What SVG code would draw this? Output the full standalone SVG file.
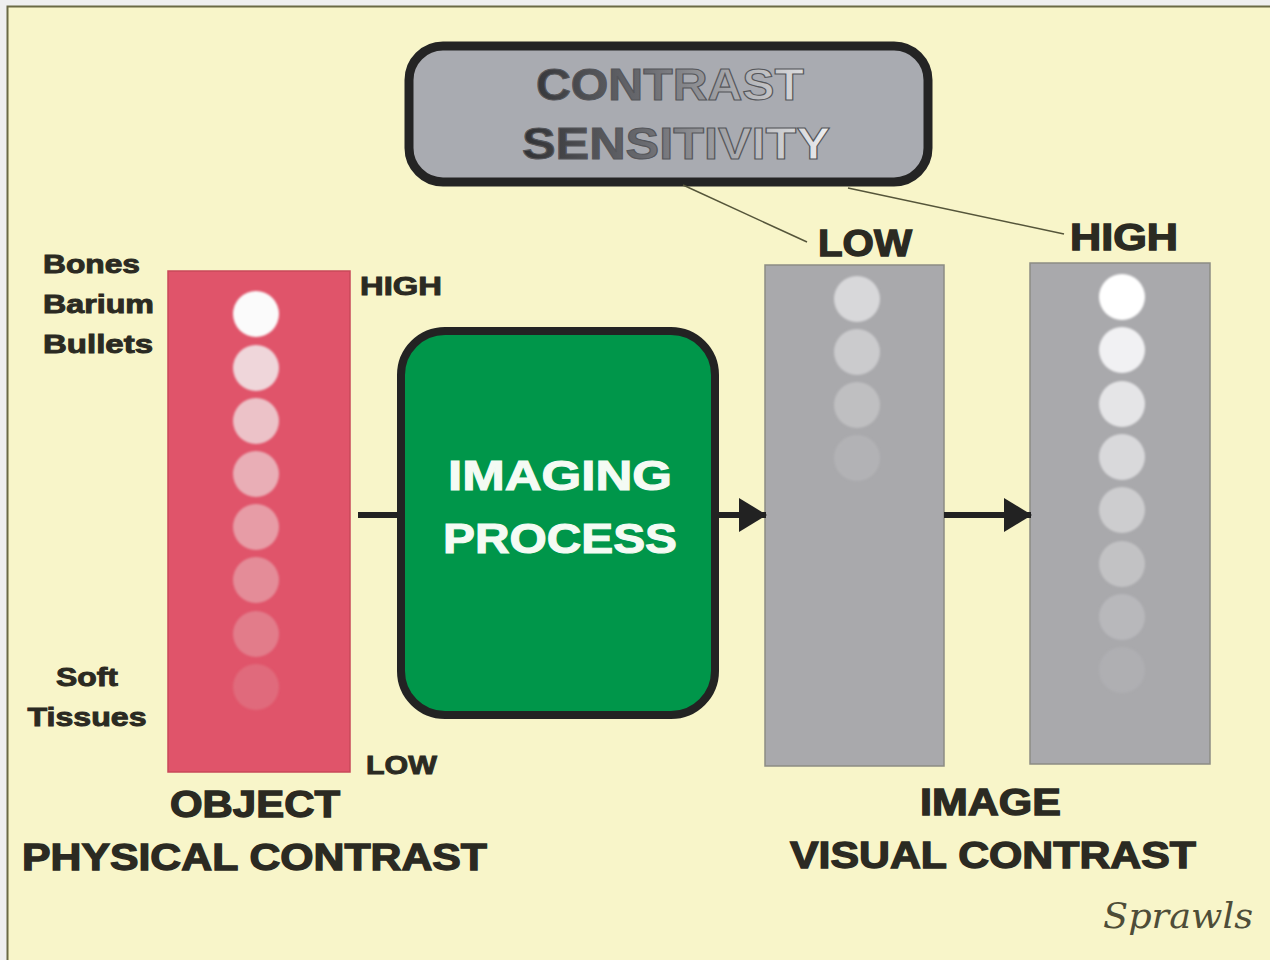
<svg xmlns="http://www.w3.org/2000/svg" width="1270" height="960" viewBox="0 0 1270 960">
<style>
.lbl{font-family:"Liberation Sans",Arial,sans-serif;font-weight:bold;fill:#2b2a22;stroke:#2b2a22;stroke-width:0.9}
.big{font-family:"Liberation Sans",Arial,sans-serif;font-weight:bold;fill:#2b2a22;stroke:#2b2a22;stroke-width:1.3}
.wt{font-family:"Liberation Sans",Arial,sans-serif;font-weight:bold;fill:#f4fbf4;stroke:#f4fbf4;stroke-width:1.1}
.cs{font-family:"Liberation Sans",Arial,sans-serif;font-weight:bold;fill:url(#csg);stroke:#55565a;stroke-width:1.1}
.conn{stroke:#222;stroke-width:6;fill:none}
.thin{stroke:#55553a;stroke-width:1.5;fill:none}
</style>
<defs>
<linearGradient id="csg" gradientUnits="userSpaceOnUse" x1="520" y1="0" x2="835" y2="0">
<stop offset="0" stop-color="#2f3033"/>
<stop offset="0.4" stop-color="#6a6b70"/>
<stop offset="1" stop-color="#f2f3f5"/>
</linearGradient>
<filter id="soft" x="-20%" y="-20%" width="140%" height="140%"><feGaussianBlur stdDeviation="1.2"/></filter>
<marker id="ah" viewBox="0 0 28 34" refX="27" refY="17" markerWidth="28" markerHeight="34" markerUnits="userSpaceOnUse" orient="auto"><path d="M0,0 L28,17 L0,34 z" fill="#222"/></marker>
</defs>
<rect x="0" y="0" width="1270" height="960" fill="#efefef"/>
<rect x="7" y="6" width="1263" height="954" fill="#f8f5c9"/>
<path d="M7.5,960 V6.5 H1270" stroke="#6b6a45" stroke-width="2" fill="none"/>

<g id="sensitivity">
<rect x="409" y="46" width="519" height="136" rx="34" fill="#a9abb1" stroke="#242424" stroke-width="9"/>
<text class="cs" x="670" y="100" font-size="44" text-anchor="middle" textLength="268" lengthAdjust="spacingAndGlyphs">CONTRAST</text>
<text class="cs" x="676" y="159" font-size="44" text-anchor="middle" textLength="308" lengthAdjust="spacingAndGlyphs">SENSITIVITY</text>
</g>

<g id="object">
<rect x="168" y="271" width="182" height="501" fill="#e0546a" stroke="#c8485a" stroke-width="1.5"/>
<g filter="url(#soft)">
<circle cx="256" cy="314" r="23" fill="#fbfbfb"/>
<circle cx="256" cy="368" r="23" fill="#efd6da"/>
<circle cx="256" cy="421" r="23" fill="#ecc2c8"/>
<circle cx="256" cy="474" r="23" fill="#e9aeb6"/>
<circle cx="256" cy="527" r="23" fill="#e79ca6"/>
<circle cx="256" cy="580" r="23" fill="#e48c98"/>
<circle cx="256" cy="634" r="23" fill="#e27c8a"/>
<circle cx="256" cy="687" r="23" fill="#e06a7b"/>
</g>
<text class="lbl" x="43" y="273" font-size="25" textLength="97" lengthAdjust="spacingAndGlyphs">Bones</text>
<text class="lbl" x="43" y="313" font-size="25" textLength="111" lengthAdjust="spacingAndGlyphs">Barium</text>
<text class="lbl" x="43" y="353" font-size="25" textLength="110" lengthAdjust="spacingAndGlyphs">Bullets</text>
<text class="lbl" x="87" y="686" font-size="25" text-anchor="middle" textLength="62" lengthAdjust="spacingAndGlyphs">Soft</text>
<text class="lbl" x="87" y="726" font-size="25" text-anchor="middle" textLength="119" lengthAdjust="spacingAndGlyphs">Tissues</text>
<text class="lbl" x="360" y="295" font-size="25" textLength="82" lengthAdjust="spacingAndGlyphs">HIGH</text>
<text class="lbl" x="366" y="774" font-size="25" textLength="71" lengthAdjust="spacingAndGlyphs">LOW</text>
<text class="big" x="170" y="817" font-size="37" textLength="170" lengthAdjust="spacingAndGlyphs">OBJECT</text>
<text class="big" x="22" y="870" font-size="37" textLength="465" lengthAdjust="spacingAndGlyphs">PHYSICAL CONTRAST</text>
</g>

<g id="imaging">
<rect x="401" y="331" width="314" height="384" rx="44" fill="#00964a" stroke="#232323" stroke-width="8"/>
<text class="wt" x="560" y="490" font-size="42" text-anchor="middle" textLength="224" lengthAdjust="spacingAndGlyphs">IMAGING</text>
<text class="wt" x="560" y="553" font-size="42" text-anchor="middle" textLength="234" lengthAdjust="spacingAndGlyphs">PROCESS</text>
</g>

<g id="image-low">
<rect x="765" y="265" width="179" height="501" fill="#a9a9ac" stroke="#8c8c84" stroke-width="1.5"/>
<g filter="url(#soft)">
<circle cx="857" cy="299" r="23" fill="#d8d8da"/>
<circle cx="857" cy="352" r="23" fill="#cbcbcd"/>
<circle cx="857" cy="405" r="23" fill="#bfbfc1"/>
<circle cx="857" cy="458" r="23" fill="#b2b2b5"/>
</g>
<text class="big" x="818" y="256" font-size="37" textLength="94" lengthAdjust="spacingAndGlyphs">LOW</text>
</g>

<g id="image-high">
<rect x="1030" y="263" width="180" height="501" fill="#a9a9ac" stroke="#8c8c84" stroke-width="1.5"/>
<g filter="url(#soft)">
<circle cx="1122" cy="297" r="23" fill="#ffffff"/>
<circle cx="1122" cy="350" r="23" fill="#f1f1f3"/>
<circle cx="1122" cy="404" r="23" fill="#e5e5e7"/>
<circle cx="1122" cy="457" r="23" fill="#d9d9db"/>
<circle cx="1122" cy="510" r="23" fill="#cdcdcf"/>
<circle cx="1122" cy="564" r="23" fill="#c2c2c4"/>
<circle cx="1122" cy="617" r="23" fill="#b8b8bb"/>
<circle cx="1122" cy="670" r="23" fill="#afafb2"/>
</g>
<text class="big" x="1070" y="250" font-size="37" textLength="108" lengthAdjust="spacingAndGlyphs">HIGH</text>
</g>

<g id="captions">
<text class="big" x="920" y="815" font-size="37" textLength="141" lengthAdjust="spacingAndGlyphs">IMAGE</text>
<text class="big" x="790" y="868" font-size="37" textLength="406" lengthAdjust="spacingAndGlyphs">VISUAL CONTRAST</text>
<text x="1178" y="928" font-family="'DejaVu Serif','Liberation Serif',serif" font-style="italic" font-size="36" fill="#4e4d38" text-anchor="middle" textLength="150" lengthAdjust="spacingAndGlyphs">Sprawls</text>
</g>

<g id="connectors">
<line class="conn" x1="358" y1="515" x2="398" y2="515"/>
<line class="conn" x1="718" y1="515" x2="766" y2="515" marker-end="url(#ah)"/>
<line class="conn" x1="944" y1="515" x2="1031" y2="515" marker-end="url(#ah)"/>
<polyline class="thin" points="683,185 807,242"/>
<polyline class="thin" points="848,188 1064,234"/>
</g>
</svg>
